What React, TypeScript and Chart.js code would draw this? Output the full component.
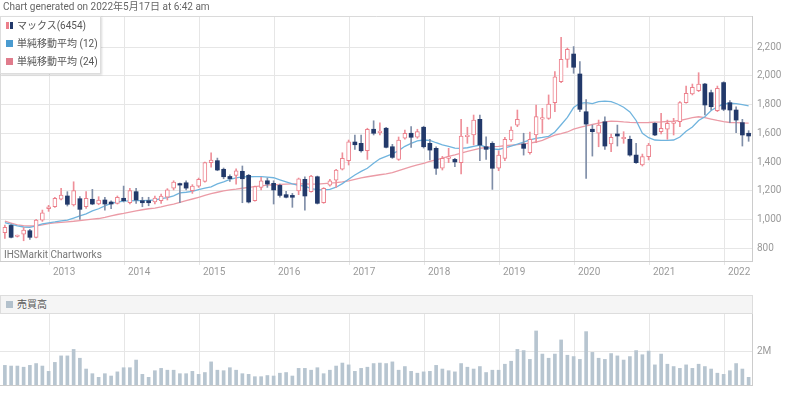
import React, { useEffect, useRef } from 'react';
import { Chart, registerables } from 'chart.js';

Chart.register(...registerables);

const FONT = 'Roboto, "Noto Sans CJK JP", "Noto Sans", sans-serif';

// Monthly candles, June 2012 .. May 2022 (index 0 .. 119)
const openP = [908,959,882,898,922,876,996,1075,1089,1141,1164,1101,1145,1089,1141,1108,1136,1122,1113,1148,1117,1194,1131,1131,1122,1131,1155,1219,1250,1256,1201,1233,1266,1396,1410,1350,1300,1308,1336,1308,1131,1224,1270,1252,1238,1173,1168,1200,1280,1194,1298,1117,1240,1275,1350,1410,1540,1531,1480,1629,1605,1636,1507,1419,1566,1601,1573,1643,1531,1496,1357,1426,1419,1396,1577,1589,1698,1507,1531,1357,1426,1554,1658,1526,1465,1589,1700,1705,1814,1960,2116,2153,2014,1751,1629,1601,1681,1526,1596,1563,1559,1449,1380,1438,1670,1612,1629,1670,1681,1814,1875,1898,1944,1884,1758,1954,1814,1763,1675,1601];
const highP = [961,968,892,945,931,1001,1066,1099,1155,1217,1194,1263,1159,1194,1210,1159,1155,1131,1164,1233,1217,1217,1155,1155,1164,1178,1215,1270,1254,1270,1243,1289,1401,1465,1428,1359,1312,1354,1373,1315,1233,1294,1289,1270,1247,1196,1182,1289,1298,1308,1303,1222,1280,1350,1465,1554,1589,1589,1636,1688,1674,1643,1524,1575,1624,1647,1629,1650,1559,1507,1440,1496,1426,1698,1643,1728,1728,1577,1542,1479,1573,1645,1763,1601,1610,1798,1775,1868,2030,2270,2195,2205,2100,1835,1658,1693,1716,1596,1658,1612,1582,1531,1456,1531,1675,1740,1693,1705,1821,1930,1944,2023,1949,1902,1930,1960,1828,1786,1698,1619];
const lowP = [869,871,878,852,862,871,987,1057,1085,1136,1094,1094,1001,1078,1103,1103,1066,1075,1108,1122,1108,1113,1089,1096,1108,1113,1136,1206,1117,1206,1182,1224,1261,1364,1340,1284,1266,1247,1117,1115,1127,1206,1224,1108,1155,1150,1085,1173,1066,1190,1108,1113,1233,1224,1345,1380,1489,1470,1419,1589,1589,1498,1426,1412,1559,1503,1566,1498,1415,1315,1345,1396,1368,1317,1531,1519,1410,1419,1210,1340,1410,1545,1647,1449,1455,1535,1601,1698,1751,1953,2060,2019,1751,1287,1442,1507,1489,1472,1512,1531,1442,1391,1373,1415,1585,1596,1559,1589,1647,1810,1868,1891,1728,1763,1752,1758,1675,1605,1512,1545];
const closeP = [945,876,886,926,876,996,1047,1089,1148,1171,1106,1201,1071,1148,1108,1136,1108,1108,1155,1131,1201,1136,1117,1117,1150,1164,1206,1261,1240,1219,1233,1280,1396,1415,1345,1298,1285,1340,1284,1122,1229,1270,1247,1206,1168,1155,1155,1284,1164,1303,1113,1217,1270,1345,1426,1542,1521,1479,1629,1601,1617,1503,1433,1554,1601,1573,1612,1507,1484,1357,1426,1436,1401,1582,1589,1693,1519,1489,1357,1449,1559,1624,1698,1496,1559,1717,1708,1805,1995,2116,2186,2061,1768,1665,1612,1658,1512,1573,1582,1573,1449,1396,1438,1519,1589,1636,1670,1681,1814,1879,1921,1944,1798,1786,1914,1768,1763,1693,1589,1582];
const sma12 = [978,966,955,948,945,955,970,977,983,990,996,1010,1025,1040,1060,1075,1095,1113,1122,1128,1130,1131,1132,1134,1136,1145,1152,1165,1185,1190,1196,1208,1218,1228,1248,1263,1280,1290,1297,1298,1299,1299,1296,1291,1277,1262,1248,1238,1233,1215,1208,1206,1210,1225,1250,1280,1310,1335,1357,1392,1423,1440,1458,1480,1510,1530,1548,1554,1552,1535,1520,1510,1497,1496,1500,1510,1519,1505,1492,1488,1500,1512,1525,1540,1555,1565,1572,1580,1610,1660,1712,1780,1810,1815,1808,1822,1825,1821,1805,1782,1750,1690,1600,1570,1554,1552,1552,1554,1575,1615,1645,1690,1716,1760,1785,1805,1810,1808,1800,1792];
const sma24 = [988,975,963,958,955,956,962,972,976,980,984,988,993,998,1003,1007,1015,1025,1035,1043,1052,1060,1068,1075,1080,1088,1098,1108,1120,1132,1143,1155,1168,1180,1190,1200,1207,1212,1218,1224,1229,1234,1239,1242,1245,1247,1248,1248,1248,1247,1247,1250,1253,1257,1262,1270,1280,1290,1298,1305,1312,1318,1326,1340,1355,1368,1380,1392,1405,1415,1428,1440,1450,1462,1475,1485,1495,1503,1508,1510,1514,1518,1522,1527,1533,1540,1552,1570,1588,1598,1610,1630,1642,1652,1662,1672,1680,1685,1684,1680,1677,1675,1675,1676,1678,1680,1683,1686,1690,1700,1710,1716,1710,1700,1690,1682,1676,1675,1673,1672];
// Volume, millions of shares
const volume = [1.18,1.14,1.14,1.07,1.18,1.29,1.14,0.82,1.36,1.75,1.75,2.14,1.61,0.96,0.68,0.46,0.68,0.54,0.79,1.04,1.04,1.5,0.64,0.46,0.86,1.0,0.89,0.89,0.68,0.68,0.82,0.64,0.75,1.39,0.89,0.86,1.04,0.89,0.68,0.64,0.5,0.5,0.57,0.54,0.71,0.75,0.54,1.0,1.0,0.89,1.04,0.68,0.89,1.14,1.32,1.21,0.82,1.0,1.07,1.29,1.32,1.29,1.39,0.89,1.11,0.82,0.71,0.79,0.82,1.18,0.96,0.86,0.79,1.29,1.07,0.96,1.11,0.75,0.89,0.89,1.25,1.43,2.14,2.07,1.54,3.25,1.86,1.61,1.86,2.71,1.79,1.71,1.54,3.21,1.96,1.61,1.54,1.89,1.75,1.5,1.71,2.07,1.82,2.04,1.21,1.86,1.25,1.11,1.0,1.21,1.0,1.25,1.11,0.96,0.71,0.64,0.86,1.29,0.96,0.46];
const yearLabels = ['2013','2014','2015','2016','2017','2018','2019','2020','2021','2022'];
// index (in months from June 2012) of each year boundary
const yearStarts = [7.2,19.2,31.2,43.2,55.2,67.2,79.2,91.2,103.2,115.2];
const priceTicks = [800,1000,1200,1400,1600,1800,2000,2200];
const volTicks = [2];

const X_MIN = -0.78;
const X_MAX = 119.54;

const UP = '#ec7f8b';
const UP_WICK = '#ef8f99';
const DOWN = '#22396a';
const DOWN_WICK = '#7f8ea8';
const GRID = '#e6e6e6';

const framePlugin = {
  id: 'frame',
  beforeDatasetsDraw(chart: any) {
    const { ctx, chartArea: a } = chart;
    ctx.save();
    ctx.strokeStyle = '#dadada';
    ctx.lineWidth = 1;
    ctx.beginPath();
    ctx.moveTo(a.left + 0.5, a.bottom);
    ctx.lineTo(a.left + 0.5, a.top + 0.5);
    ctx.lineTo(a.right, a.top + 0.5);
    ctx.stroke();
    ctx.restore();
  },
};

export default function App() {
  const mainRef = useRef<HTMLCanvasElement | null>(null);
  const volRef = useRef<HTMLCanvasElement | null>(null);

  useEffect(() => {
    Chart.defaults.font.family = FONT;
    Chart.defaults.font.size = 10;
    const idx = closeP.map((_, i) => i);
    const isUp = (i: number) => closeP[i] >= openP[i];

    const main = new Chart(mainRef.current as HTMLCanvasElement, {
      type: 'bar',
      data: {
        datasets: [
          {
            type: 'bar',
            label: 'body',
            data: idx.map((i) => ({ x: i, y: [openP[i], closeP[i]] })) as any,
            barThickness: 4,
            grouped: false,
            borderSkipped: false,
            minBarLength: 1.5,
            backgroundColor: (c: any) => (isUp(c.dataIndex) ? '#ffffff' : DOWN),
            borderColor: (c: any) => (isUp(c.dataIndex) ? UP : DOWN),
            borderWidth: (c: any) => (isUp(c.dataIndex) ? 1 : 0),
            order: 0,
          } as any,
          {
            type: 'bar',
            label: 'wick',
            data: idx.map((i) => ({ x: i, y: [lowP[i], highP[i]] })) as any,
            barThickness: 1,
            grouped: false,
            backgroundColor: (c: any) => (isUp(c.dataIndex) ? UP_WICK : DOWN_WICK),
            order: 1,
          } as any,
          {
            type: 'line',
            label: '単純移動平均 (12)',
            data: idx.map((i) => ({ x: i, y: sma12[i] })),
            borderColor: '#70b4de',
            borderWidth: 1.3,
            pointRadius: 0,
            tension: 0,
            order: 2,
          } as any,
          {
            type: 'line',
            label: '単純移動平均 (24)',
            data: idx.map((i) => ({ x: i, y: sma24[i] })),
            borderColor: '#eb9ba6',
            borderWidth: 1.3,
            pointRadius: 0,
            tension: 0,
            order: 3,
          } as any,
        ],
      },
      options: {
        animation: false,
        responsive: false,
        devicePixelRatio: 1,
        layout: { padding: { top: 16, left: 0, right: 0, bottom: 0 } },
        plugins: { legend: { display: false }, tooltip: { enabled: false } },
        scales: {
          x: {
            type: 'linear',
            offset: false,
            min: X_MIN,
            max: X_MAX,
            grid: { color: GRID, tickLength: 4, tickColor: GRID, offset: false },
            border: { color: '#cccccc' },
            afterBuildTicks: (s: any) => {
              s.ticks = yearStarts.map((v) => ({ value: v }));
            },
            afterFit: (s: any) => {
              s.height = 21;
            },
            ticks: {
              autoSkip: false,
              maxRotation: 0,
              align: 'start',
              labelOffset: 3,
              padding: 1,
              color: '#9a9a9a',
              font: { size: 10, family: FONT },
              callback: (_v: any, i: number) => yearLabels[i],
            },
          } as any,
          y: {
            type: 'linear',
            position: 'right',
            min: 711,
            max: 2418,
            grid: { color: GRID, drawTicks: false },
            border: { color: '#cccccc' },
            afterBuildTicks: (s: any) => {
              s.ticks = priceTicks.map((v) => ({ value: v }));
            },
            afterFit: (s: any) => {
              s.width = 48;
            },
            ticks: {
              padding: 5,
              color: '#9a9a9a',
              font: { size: 10, family: FONT },
              callback: (v: any) => Number(v).toLocaleString('en-US'),
            },
          } as any,
        },
      },
      plugins: [framePlugin],
    });

    const vol = new Chart(volRef.current as HTMLCanvasElement, {
      type: 'bar',
      data: {
        datasets: [
          {
            label: '売買高',
            data: idx.map((i) => ({ x: i, y: volume[i] })),
            backgroundColor: '#b7c5d0',
            barThickness: 3,
          } as any,
        ],
      },
      options: {
        animation: false,
        responsive: false,
        devicePixelRatio: 1,
        layout: { padding: { top: 19, left: 0, right: 0, bottom: 0 } },
        plugins: { legend: { display: false }, tooltip: { enabled: false } },
        scales: {
          x: {
            type: 'linear',
            offset: false,
            min: X_MIN,
            max: X_MAX,
            grid: { color: GRID, drawTicks: false, offset: false },
            border: { color: '#cccccc' },
            afterBuildTicks: (s: any) => {
              s.ticks = yearStarts.map((v) => ({ value: v }));
            },
            afterFit: (s: any) => {
              s.height = 2;
            },
            ticks: { display: false },
          } as any,
          y: {
            type: 'linear',
            position: 'right',
            min: 0,
            max: 4.33,
            grid: { color: GRID, drawTicks: false },
            border: { color: '#cccccc' },
            afterBuildTicks: (s: any) => {
              s.ticks = volTicks.map((v) => ({ value: v }));
            },
            afterFit: (s: any) => {
              s.width = 48;
            },
            ticks: {
              padding: 5,
              color: '#9a9a9a',
              font: { size: 10, family: FONT },
              callback: (v: any) => `${v}M`,
            },
          } as any,
        },
      },
    });

    return () => {
      main.destroy();
      vol.destroy();
    };
  }, []);

  const text: React.CSSProperties = { fontFamily: FONT, fontSize: 10, whiteSpace: 'nowrap' };
  const row = (top: number, icon: React.ReactNode, label: string) => (
    <div style={{ position: 'absolute', left: 0, top, height: 18, width: '100%' }}>
      <div style={{ position: 'absolute', left: 5, top: 5 }}>{icon}</div>
      <div style={{ ...text, position: 'absolute', left: 16, top: 0, lineHeight: '18px', color: '#555' }}>{label}</div>
    </div>
  );
  const sq = (color: string) => <div style={{ width: 7, height: 7, background: color }} />;

  return (
    <div style={{ position: 'absolute', left: 0, top: 0, width: 800, height: 396, background: '#fff', overflow: 'hidden' }}>
      <canvas ref={mainRef} width={800} height={282} style={{ position: 'absolute', left: 0, top: 0 }} />
      <canvas ref={volRef} width={800} height={102} style={{ position: 'absolute', left: 0, top: 294 }} />
      <div style={{ ...text, position: 'absolute', left: 3, top: 0, lineHeight: '14px', color: '#666' }}>
        Chart generated on 2022年5月17日 at 6:42 am
      </div>
      <div
        style={{
          position: 'absolute', left: 0, top: 16, width: 99, height: 56, background: '#fff',
          border: '1px solid #dddddd', boxShadow: '1px 1px 2px rgba(0,0,0,0.15)',
        }}
      >
        {row(0, (
          <div style={{ display: 'flex', width: 7, height: 7 }}>
            <div style={{ width: 3, height: 7, background: UP }} />
            <div style={{ width: 1, height: 7, background: '#fff' }} />
            <div style={{ width: 3, height: 7, background: DOWN }} />
          </div>
        ), 'マックス(6454)')}
        {row(18, sq('#4a9bd0'), '単純移動平均 (12)')}
        {row(36, sq('#e07c8c'), '単純移動平均 (24)')}
      </div>
      <div style={{ ...text, position: 'absolute', left: 4, top: 249, lineHeight: '12px', color: '#777' }}>
        IHSMarkit Chartworks
      </div>
      <div
        style={{
          position: 'absolute', left: 0, top: 295, width: 751, height: 17, background: '#f5f5f5',
          border: '1px solid #dddddd',
        }}
      >
        <div style={{ position: 'absolute', left: 5, top: 5 }}>{sq('#b3c1cc')}</div>
        <div style={{ ...text, position: 'absolute', left: 16, top: 0, lineHeight: '17px', color: '#555' }}>売買高</div>
      </div>
    </div>
  );
}
